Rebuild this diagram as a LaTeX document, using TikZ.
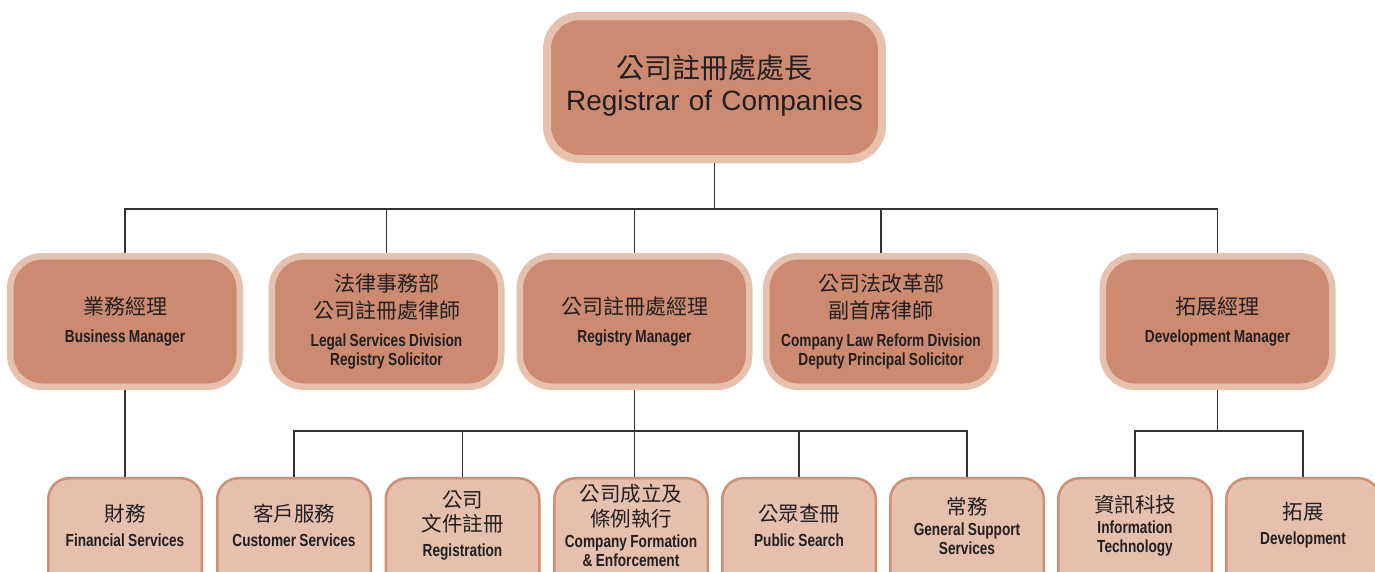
\documentclass[tikz,border=0pt]{standalone}
\usepackage{fontspec}
\newfontfamily\cjk{Noto Sans CJK TC}
\newfontfamily\enreg{Liberation Sans}
\newfontfamily\encond[FakeStretch=0.78]{Liberation Sans}
\setlength\parindent{0pt}
\setlength\parskip{0pt}
\newcommand\zl[4]{{#1\fontsize{#2}{#3}\selectfont #4\par}}
\newcommand\zpad[1]{\par\vskip#1\nointerlineskip\hbox{}}
\definecolor{darkc}{RGB}{204,139,112}
\definecolor{lightc}{RGB}{230,193,174}
\definecolor{botfill}{RGB}{228,192,173}
\definecolor{botline}{RGB}{208,142,115}
\definecolor{txt}{RGB}{35,31,32}
\definecolor{linec}{RGB}{50,50,50}
\tikzset{
  topbox/.style={draw=lightc, line width=8pt, fill=darkc, rounded corners=33pt,
    minimum width=335pt, minimum height=143pt, inner sep=0pt, text width=320pt,
    align=center, text=txt},
  midbox/.style={draw=lightc, line width=6.5pt, fill=darkc, rounded corners=32pt,
    minimum width=229.5pt, minimum height=130.5pt, inner sep=0pt, text width=226pt,
    align=center, text=txt},
  botbox/.style={draw=botline, line width=2.5pt, fill=botfill, rounded corners=21pt,
    minimum width=153.5pt, minimum height=121.75pt, inner sep=0pt, text width=152pt,
    align=center, text=txt},
  conn/.style={draw=linec, line width=1.4pt}
}
\begin{document}
\begin{tikzpicture}[x=1pt,y=-1pt]
\useasboundingbox (0,0) rectangle (1375,571);
\clip (0,0) rectangle (1375,571);
\fill[white] (0,0) rectangle (1375,571);
\coordinate (h1) at (0,209);
\coordinate (h2) at (0,431);
% top
\node[topbox] (top) at (714.5,87.5) {\zl{\cjk}{28}{28}{公司註冊處處長}\zl{\enreg\spaceskip=8pt plus 2pt minus 1pt\relax}{28}{32}{Registrar of Companies}\zpad{3pt}};
% middle row
\node[midbox] (bm) at (125,321.5) {\zl{\cjk}{21}{27}{業務經理}\zl{\encond\bfseries}{17.5}{28}{Business Manager}};
\node[midbox] (ls) at (386.5,321.5) {\zl{\cjk}{21}{27}{法律事務部}\zl{\cjk}{21}{27}{公司註冊處律師}\zl{\encond\bfseries}{17.5}{28}{Legal Services Division}\zl{\encond\bfseries}{17.5}{19}{Registry Solicitor}};
\node[midbox] (rm) at (634.5,321.5) {\zl{\cjk}{21}{27}{公司註冊處經理}\zl{\encond\bfseries}{17.5}{28}{Registry Manager}};
\node[midbox] (cl) at (881,321.5) {\zl{\cjk}{21}{27}{公司法改革部}\zl{\cjk}{21}{27}{副首席律師}\zl{\encond\bfseries}{17.5}{28}{Company Law Reform Division}\zl{\encond\bfseries}{17.5}{19}{Deputy Principal Solicitor}};
\node[midbox] (dm) at (1217.5,321.5) {\zl{\cjk}{21}{27}{拓展經理}\zl{\encond\bfseries}{17.5}{28}{Development Manager}};
% bottom row
\node[botbox] (fin) at (125,539.1) {\zl{\cjk}{20.5}{25}{財務}\zl{\encond\bfseries}{17.5}{25}{Financial Services}\zpad{27pt}};
\node[botbox] (cus) at (294,539.1) {\zl{\cjk}{20.5}{25}{客戶服務}\zl{\encond\bfseries}{17.5}{25}{Customer Services}\zpad{27pt}};
\node[botbox] (reg) at (462.5,539.1) {\zl{\cjk}{20.5}{25}{公司}\zl{\cjk}{20.5}{24}{文件註冊}\zl{\encond\bfseries}{17.5}{25}{Registration}\zpad{27pt}};
\node[botbox] (cf) at (631,539.1) {\zl{\cjk}{20.5}{25}{公司成立及}\zl{\cjk}{20.5}{25}{條例執行}\zl{\encond\bfseries}{17.5}{21}{Company Formation}\zl{\encond\bfseries}{17.5}{19}{\& Enforcement}\zpad{27pt}};
\node[botbox] (ps) at (799,539.1) {\zl{\cjk}{20.5}{25}{公眾查冊}\zl{\encond\bfseries}{17.5}{25}{Public Search}\zpad{27pt}};
\node[botbox] (gs) at (967,539.1) {\zl{\cjk}{20.5}{25}{常務}\zl{\encond\bfseries}{17.5}{21}{General Support}\zl{\encond\bfseries}{17.5}{19}{Services}\zpad{27pt}};
\node[botbox] (it) at (1135,539.1) {\zl{\cjk}{20.5}{25}{資訊科技}\zl{\encond\bfseries}{17.5}{21}{Information}\zl{\encond\bfseries}{17.5}{19}{Technology}\zpad{27pt}};
\node[botbox] (dev) at (1303,539.1) {\zl{\cjk}{20.5}{25}{拓展}\zl{\encond\bfseries}{17.5}{25}{Development}\zpad{27pt}};
% connectors: top level
\draw[conn] (top.south) -- (top.south |- h1);
\draw[conn] (bm.north) -- (bm.north |- h1) -- (dm.north |- h1) -- (dm.north);
\draw[conn] (ls.north) -- (ls.north |- h1);
\draw[conn] (rm.north) -- (rm.north |- h1);
\draw[conn] (cl.north) -- (cl.north |- h1);
% business manager
\draw[conn] (bm.south) -- (bm.south |- fin.north);
% registry manager
\draw[conn] (rm.south) -- (rm.south |- cf.north);
\draw[conn] (cus.north) -- (cus.north |- h2) -- (gs.north |- h2) -- (gs.north);
\draw[conn] (reg.north) -- (reg.north |- h2);
\draw[conn] (ps.north) -- (ps.north |- h2);
% development manager
\draw[conn] (dm.south) -- (dm.south |- h2);
\draw[conn] (it.north) -- (it.north |- h2) -- (dev.north |- h2) -- (dev.north);
\end{tikzpicture}
\end{document}
